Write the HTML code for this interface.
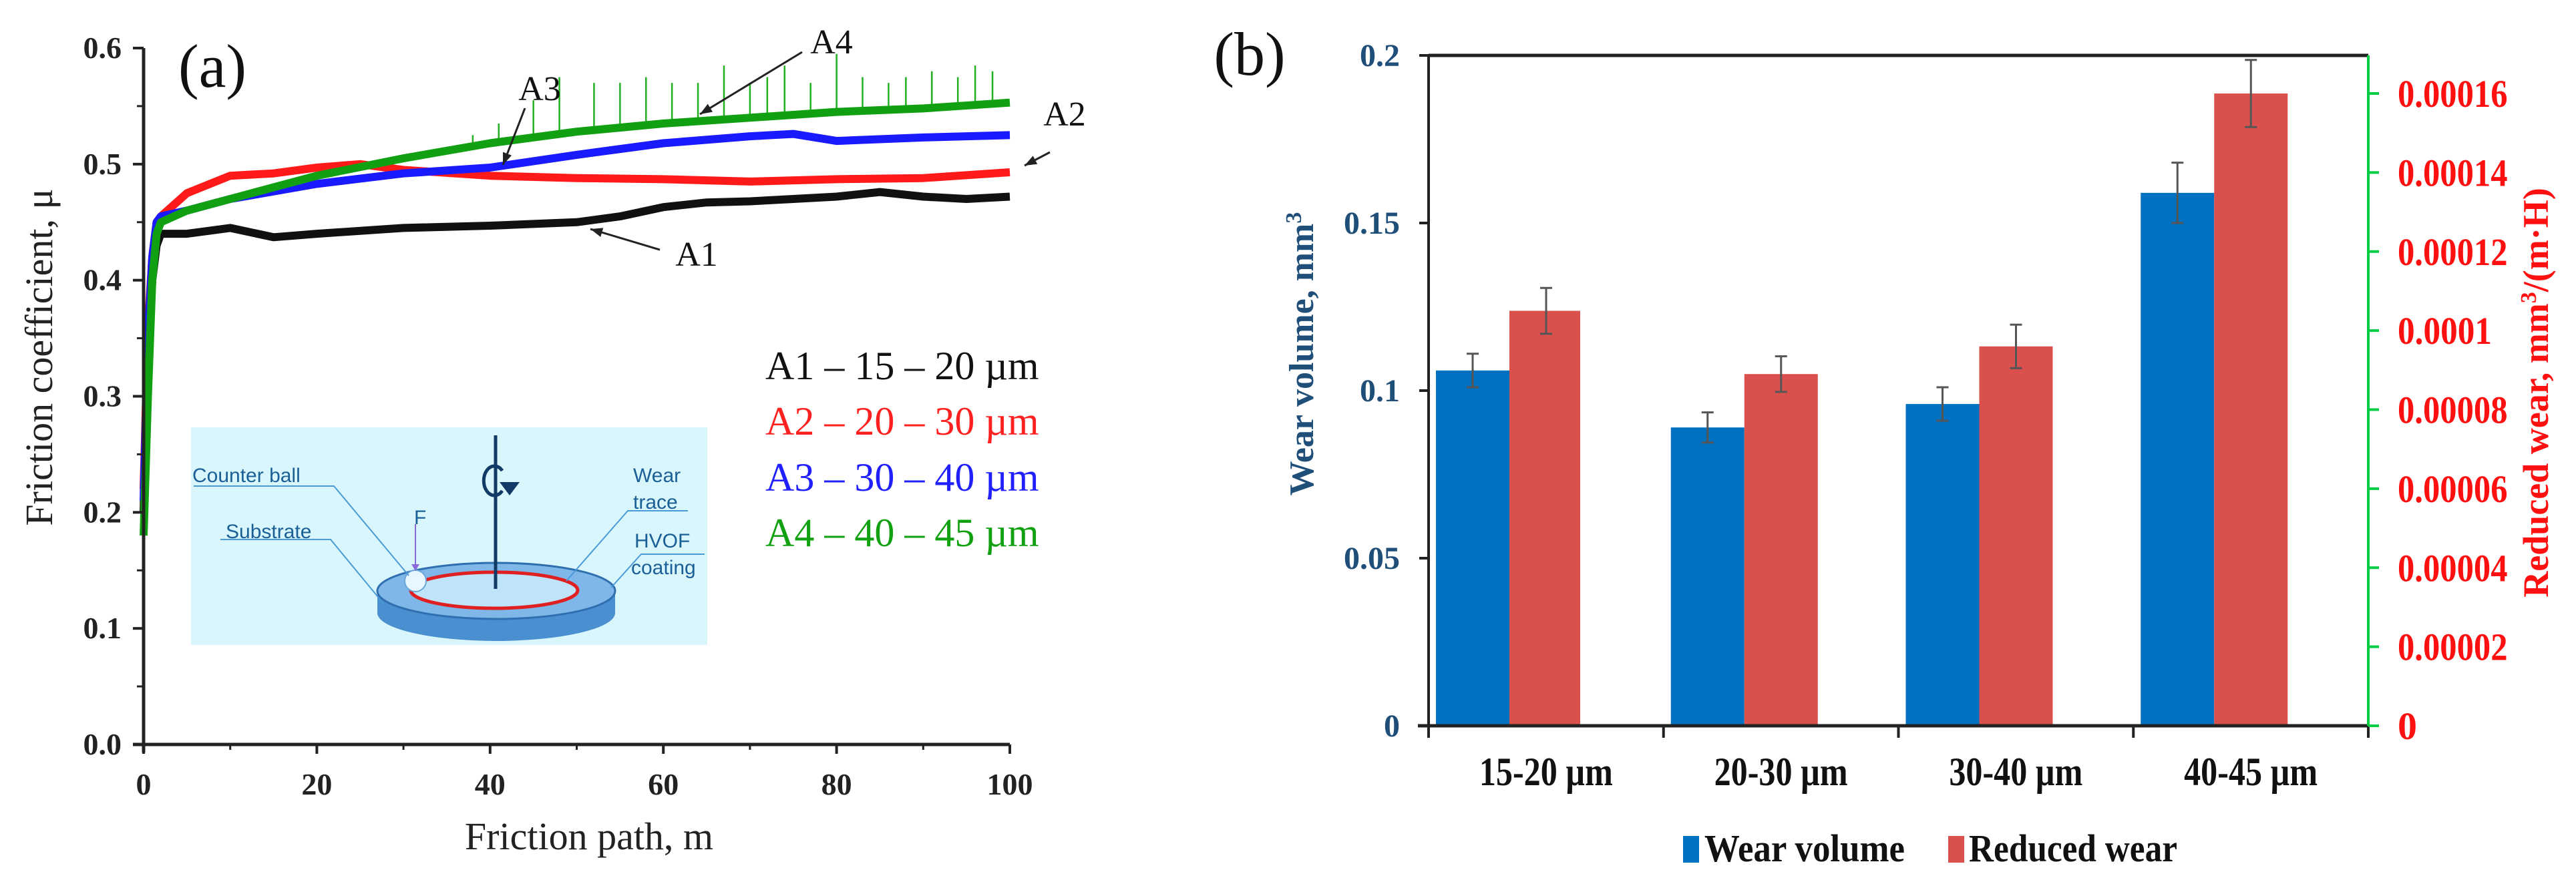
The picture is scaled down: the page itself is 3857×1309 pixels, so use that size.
<!DOCTYPE html>
<html><head><meta charset="utf-8">
<style>
html,body{margin:0;padding:0;background:#fff;}
svg{display:block;font-family:"Liberation Serif",serif;}
</style></head>
<body>
<svg id="fig" width="3857" height="1309" viewBox="0 0 3857 1309">
<g id="pa"></g>
<g id="pb"></g>
</svg>
<script>
// ---------- Chart (a) data ----------
const aXTicks = [0,20,40,60,80,100];
const aYTicks = [0.0,0.1,0.2,0.3,0.4,0.5,0.6];
const a1X = [0,0.5,1,1.5,2,5,10,15,20,30,40,50,55,60,65,70,75,80,85,90,95,100];
const a1Y = [0.2,0.33,0.40,0.43,0.44,0.44,0.445,0.437,0.44,0.445,0.447,0.45,0.455,0.463,0.467,0.468,0.47,0.472,0.476,0.472,0.47,0.472];
const a2X = [0,0.5,1,1.5,2,5,10,15,20,25,30,40,50,60,70,80,90,100];
const a2Y = [0.22,0.36,0.42,0.45,0.455,0.475,0.49,0.492,0.497,0.5,0.495,0.49,0.488,0.487,0.485,0.487,0.488,0.493];
const a3X = [0,0.5,1,1.5,2,5,10,20,30,40,50,60,70,75,80,90,100];
const a3Y = [0.21,0.35,0.42,0.45,0.455,0.46,0.47,0.483,0.492,0.497,0.508,0.518,0.524,0.526,0.52,0.523,0.525];
const a4X = [0,0.5,1,1.5,2,5,10,20,30,40,50,60,70,80,90,100];
const a4Y = [0.18,0.3,0.4,0.44,0.45,0.46,0.47,0.49,0.505,0.518,0.528,0.535,0.54,0.545,0.548,0.553];
const spikeX = [38,41,45,48,52,55,58,61,64,67,70,72,74,77,80,83,86,88,91,94,96,98];
const spikeY = [0.525,0.535,0.555,0.575,0.57,0.57,0.575,0.57,0.57,0.585,0.57,0.575,0.585,0.57,0.595,0.575,0.57,0.575,0.58,0.575,0.585,0.58];

// ---------- Chart (b) data ----------
const bCats = ["15-20 µm","20-30 µm","30-40 µm","40-45 µm"];
const wearVol = [0.106,0.089,0.096,0.159];
const wearVolErr = [0.005,0.0045,0.005,0.009];
const redWear = [0.000105,0.000089,0.000096,0.00016];
const redWearErr = [0.0000058,0.0000045,0.0000055,0.0000085];
const bLeftTicks = [0,0.05,0.1,0.15,0.2];
const bLeftLabels = ["0","0.05","0.1","0.15","0.2"];
const bRightTicks = [0,0.00002,0.00004,0.00006,0.00008,0.0001,0.00012,0.00014,0.00016];
const bRightLabels = ["0","0.00002","0.00004","0.00006","0.00008","0.0001","0.00012","0.00014","0.00016"];

const NS="http://www.w3.org/2000/svg";
function mk(parent,tag,attrs,text){const e=document.createElementNS(NS,tag);for(const k in attrs)e.setAttribute(k,attrs[k]);if(text!==undefined)e.textContent=text;parent.appendChild(e);return e;}

// ===== Chart (a) =====
const pa=document.getElementById('pa');
const ax0=215, ax1=1512, ay0=1115, ay1=72;
const xa=v=>ax0+(v/100)*(ax1-ax0);
const ya=v=>ay0-(v/0.6)*(ay0-ay1);
function interp(xs,ys,x){for(let i=1;i<xs.length;i++){if(x<=xs[i]){const f=(x-xs[i-1])/(xs[i]-xs[i-1]);return ys[i-1]+f*(ys[i]-ys[i-1]);}}return ys[ys.length-1];}

// inset
const inset=mk(pa,'g',{});


mk(inset,'rect',{x:286,y:640,width:773,height:326,fill:'#d9f6fc'});
mk(inset,'path',{d:`M 565 885 L 565 918 A 178 42 0 0 0 921 918 L 921 885 Z`,fill:'#4a8fd0'});
mk(inset,'ellipse',{cx:743,cy:885,rx:178,ry:42,fill:'#7fb8e8',stroke:'#2f6fb0','stroke-width':3});
mk(inset,'ellipse',{cx:740,cy:884,rx:125,ry:27,fill:'#bfe3f8',stroke:'#e02020','stroke-width':5});
mk(inset,'circle',{cx:622,cy:870,r:16,fill:'#e8f6ff',stroke:'#6aa6d8','stroke-width':2});
mk(inset,'line',{x1:742,y1:652,x2:742,y2:882,stroke:'#123a66','stroke-width':5});
mk(inset,'path',{d:'M 752 705 A 16 22 0 1 0 752 735',fill:'none',stroke:'#123a66','stroke-width':5});
mk(inset,'path',{d:'M 748 722 L 778 722 L 763 742 Z',fill:'#123a66'});
mk(inset,'line',{x1:622,y1:785,x2:622,y2:850,stroke:'#8a6ad8','stroke-width':2});
mk(inset,'path',{d:'M 616 845 L 628 845 L 622 855 Z',fill:'#8a6ad8'});
mk(inset,'polyline',{points:'290,728 500,728 612,862',fill:'none',stroke:'#4a9ad8','stroke-width':2});
mk(inset,'polyline',{points:'330,808 495,808 575,905',fill:'none',stroke:'#4a9ad8','stroke-width':2});
mk(inset,'polyline',{points:'1030,765 940,765 848,870',fill:'none',stroke:'#4a9ad8','stroke-width':2});
mk(inset,'polyline',{points:'1055,830 960,830 915,880',fill:'none',stroke:'#4a9ad8','stroke-width':2});
const itxt=[["Counter ball",288,722],["Substrate",338,806],["F",620,785],["Wear",948,722],["trace",948,762],["HVOF",950,820],["coating",945,860]];
itxt.forEach(t=>{const e=mk(inset,'text',{x:t[1],y:t[2],'font-family':'Liberation Sans, sans-serif','font-size':30,fill:'#1a5f96'},t[0]);

});

// spikes
spikeX.forEach((sx,i)=>{const l=mk(pa,'line',{x1:xa(sx),x2:xa(sx),y1:ya(interp(a4X,a4Y,sx)),y2:ya(spikeY[i]),stroke:'#22b022','stroke-width':2.5});

});
function curve(xs,ys,color,name){
  const d=xs.map((x,i)=>(i?'L':'M')+xa(x).toFixed(1)+' '+ya(ys[i]).toFixed(1)).join(' ');
  const p=mk(pa,'path',{d:d,fill:'none',stroke:color,'stroke-width':12,'stroke-linejoin':'round'});
  
  
}
curve(a1X,a1Y,'#111','series-a1');
curve(a2X,a2Y,'#ff1a1a','series-a2');
curve(a3X,a3Y,'#1a1aff','series-a3');
curve(a4X,a4Y,'#11a011','series-a4');

// axes
const axA=mk(pa,'g',{});


mk(axA,'line',{x1:ax0,y1:ay1,x2:ax0,y2:ay0+12,stroke:'#222','stroke-width':5});
mk(axA,'line',{x1:ax0-16,y1:ay0,x2:ax1,y2:ay0,stroke:'#222','stroke-width':5});
aYTicks.forEach(v=>{mk(axA,'line',{x1:ax0-16,x2:ax0,y1:ya(v),y2:ya(v),stroke:'#222','stroke-width':4});
 if(v<0.6)mk(axA,'line',{x1:ax0-10,x2:ax0,y1:ya(v+0.05),y2:ya(v+0.05),stroke:'#222','stroke-width':3});
 const t=mk(axA,'text',{x:182,y:ya(v)+15,'text-anchor':'end','font-size':46,'font-weight':'bold',fill:'#222'},v.toFixed(1));
 
 });
aXTicks.forEach(v=>{mk(axA,'line',{x1:xa(v),x2:xa(v),y1:ay0,y2:ay0+14,stroke:'#222','stroke-width':4});
 if(v<100)mk(axA,'line',{x1:xa(v+10),x2:xa(v+10),y1:ay0,y2:ay0+8,stroke:'#222','stroke-width':3});
 const t=mk(axA,'text',{x:xa(v),y:1190,'text-anchor':'middle','font-size':46,'font-weight':'bold',fill:'#222'},v);
 
 });
let t;
t=mk(pa,'text',{x:882,y:1272,'text-anchor':'middle','font-size':58,fill:'#222'},'Friction path, m');


t=mk(pa,'text',{x:0,y:0,transform:'translate(78,535) rotate(-90)','text-anchor':'middle','font-size':58,fill:'#222'},'Friction coefficient, μ');


t=mk(pa,'text',{x:318,y:130,'text-anchor':'middle','font-size':92,fill:'#111'},'(a)');


const legA=[["A1 – 15 – 20 µm","#111",548],["A2 – 20 – 30 µm","#ff2020",631],["A3 – 30 – 40 µm","#2020ff",715],["A4 – 40 – 45 µm","#10a010",798]];
legA.forEach(l=>{const e=mk(pa,'text',{x:1146,y:l[2]+20,'font-size':60,fill:l[1]},l[0]);

});
// annotations
const ann=[["A3",808,150,786,162,753,247],["A4",1245,80,1201,78,1048,171],["A2",1594,188,1572,228,1534,248],["A1",1043,398,988,374,884,343]];
ann.forEach(a=>{const e=mk(pa,'text',{x:a[1],y:a[2],'text-anchor':'middle','font-size':52,fill:'#111'},a[0]);


mk(pa,'line',{x1:a[3],y1:a[4],x2:a[5],y2:a[6],stroke:'#222','stroke-width':3});
const ang=Math.atan2(a[6]-a[4],a[5]-a[3]);const L=18,W=7;
const bx=a[5]-L*Math.cos(ang),by=a[6]-L*Math.sin(ang);
mk(pa,'path',{d:`M ${a[5]} ${a[6]} L ${bx-W*Math.sin(ang)} ${by+W*Math.cos(ang)} L ${bx+W*Math.sin(ang)} ${by-W*Math.cos(ang)} Z`,fill:'#222'});});

// ===== Chart (b) =====
const pb=document.getElementById('pb');
const bx0=2139, bx1=3546, by0=1087, by1=83;
const yL=v=>by0-(v/0.2)*(by0-by1);
const rMax=0.00016*(by0-by1)/(by0-140);
const yR=v=>by0-(v/rMax)*(by0-by1);
const catW=(bx1-bx0)/bCats.length;
const barW=110;
function errbar(cx,top,bot){
 mk(pb,'line',{x1:cx,x2:cx,y1:top,y2:bot,stroke:'#555','stroke-width':3});
 mk(pb,'line',{x1:cx-9,x2:cx+9,y1:top,y2:top,stroke:'#555','stroke-width':3});
 mk(pb,'line',{x1:cx-9,x2:cx+9,y1:bot,y2:bot,stroke:'#555','stroke-width':3});
}
bCats.forEach((c,i)=>{
 const x0=bx0+i*catW+11;
 const r1=mk(pb,'rect',{x:x0,y:yL(wearVol[i]),width:barW,height:by0-yL(wearVol[i]),fill:'#0070c0'});
 
 
 const r2=mk(pb,'rect',{x:x0+barW,y:yR(redWear[i]),width:barW+(i==0?-4:0),height:by0-yR(redWear[i]),fill:'#d9504c'});
 
 
 errbar(x0+barW/2,yL(wearVol[i]+wearVolErr[i]),yL(wearVol[i]-wearVolErr[i]));
 errbar(x0+barW*1.5,yR(redWear[i]+redWearErr[i]),yR(redWear[i]-redWearErr[i]));
 const tl=mk(pb,'text',{x:bx0+(i+0.5)*catW,y:1176,'text-anchor':'middle','font-size':60,'font-weight':'bold',fill:'#111',textLength:200,lengthAdjust:'spacingAndGlyphs'},c);
 
 
});
mk(pb,'line',{x1:bx0,y1:by1,x2:bx1,y2:by1,stroke:'#222','stroke-width':5});
mk(pb,'line',{x1:bx0,y1:by1,x2:bx0,y2:by0+18,stroke:'#222','stroke-width':4});
mk(pb,'line',{x1:bx0-16,y1:by0,x2:bx1,y2:by0,stroke:'#222','stroke-width':5});
mk(pb,'line',{x1:bx1,y1:by1,x2:bx1,y2:by0,stroke:'#00cc44','stroke-width':4});
for(let i=0;i<=bCats.length;i++)mk(pb,'line',{x1:bx0+i*catW,x2:bx0+i*catW,y1:by0,y2:by0+18,stroke:'#222','stroke-width':4});
bLeftTicks.forEach((v,i)=>{mk(pb,'line',{x1:bx0-14,x2:bx0,y1:yL(v),y2:yL(v),stroke:'#222','stroke-width':4});
 const e=mk(pb,'text',{x:2096,y:yL(v)+16,'text-anchor':'end','font-size':48,'font-weight':'bold',fill:'#1f4e79'},bLeftLabels[i]);
 
 });
bRightTicks.forEach((v,i)=>{mk(pb,'line',{x1:bx1,x2:bx1+16,y1:yR(v),y2:yR(v),stroke:'#00cc44','stroke-width':4});
 const len=bRightLabels[i].length;
 const attrs={x:3590,y:yR(v)+20,'font-size':58,'font-weight':'bold',fill:'#ff1010'};
 if(len>1){attrs.textLength=len*23.5;attrs.lengthAdjust='spacingAndGlyphs';}
 const e=mk(pb,'text',attrs,bRightLabels[i]);
 
 });
t=mk(pb,'text',{x:0,y:0,transform:'translate(1966,530) rotate(-90)','text-anchor':'middle','font-size':52,'font-weight':'bold',fill:'#1f4e79'});
t.innerHTML='Wear volume, mm<tspan dy="-18" font-size="34">3</tspan>';


t=mk(pb,'text',{x:0,y:0,transform:'translate(3815,588) rotate(-90)','text-anchor':'middle','font-size':54,'font-weight':'bold',fill:'#ff1010'});
t.innerHTML='Reduced  wear, mm<tspan dy="-18" font-size="34">3</tspan><tspan dy="18">/(m·H)</tspan>';


t=mk(pb,'text',{x:1871,y:112,'text-anchor':'middle','font-size':92,fill:'#111'},'(b)');


// legend
const lg=mk(pb,'g',{});


mk(lg,'rect',{x:2520,y:1252,width:24,height:40,fill:'#0070c0'});
t=mk(lg,'text',{x:2552,y:1290,'font-size':58,'font-weight':'bold',fill:'#111',textLength:300,lengthAdjust:'spacingAndGlyphs'},'Wear volume');


mk(lg,'rect',{x:2917,y:1252,width:24,height:40,fill:'#d9504c'});
t=mk(lg,'text',{x:2948,y:1290,'font-size':58,'font-weight':'bold',fill:'#111',textLength:312,lengthAdjust:'spacingAndGlyphs'},'Reduced wear');


</script>
</body></html>
